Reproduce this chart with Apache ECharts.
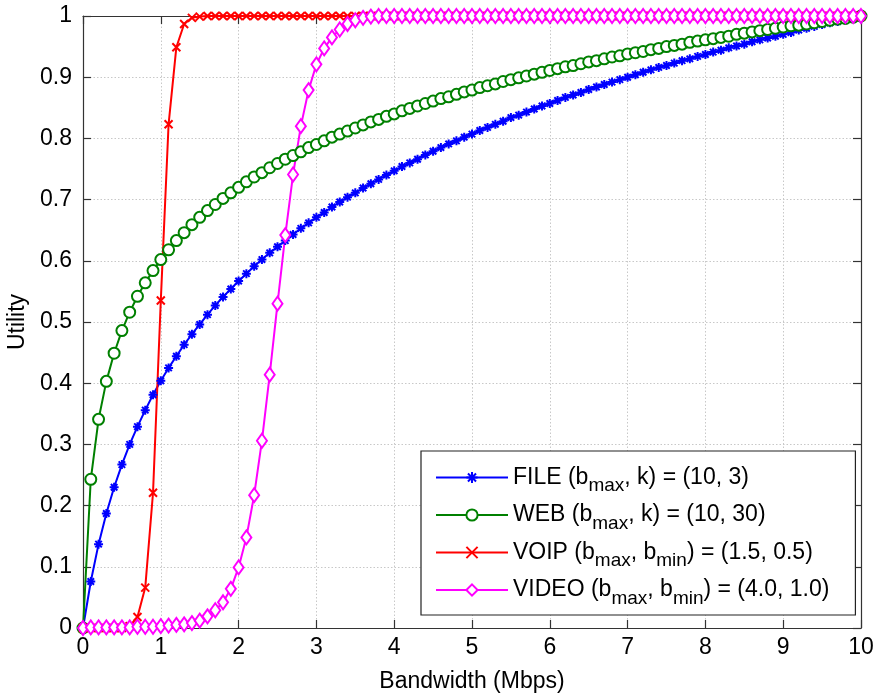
<!DOCTYPE html>
<html>
<head>
<meta charset="utf-8">
<script src="https://cdn.jsdelivr.net/npm/echarts@6/dist/echarts.min.js"></script>
<style>html,body{margin:0;padding:0;background:#fff}#c{width:874px;height:695px}</style>
</head>
<body>
<div id="c"></div>
<script>
var bandwidth = [0,0.1,0.2,0.3,0.4,0.5,0.6,0.7,0.8,0.9,1,1.1,1.2,1.3,1.4,1.5,1.6,1.7,1.8,1.9,2,2.1,2.2,2.3,2.4,2.5,2.6,2.7,2.8,2.9,3,3.1,3.2,3.3,3.4,3.5,3.6,3.7,3.8,3.9,4,4.1,4.2,4.3,4.4,4.5,4.6,4.7,4.8,4.9,5,5.1,5.2,5.3,5.4,5.5,5.6,5.7,5.8,5.9,6,6.1,6.2,6.3,6.4,6.5,6.6,6.7,6.8,6.9,7,7.1,7.2,7.3,7.4,7.5,7.6,7.7,7.8,7.9,8,8.1,8.2,8.3,8.4,8.5,8.6,8.7,8.8,8.9,9,9.1,9.2,9.3,9.4,9.5,9.6,9.7,9.8,9.9,10];

var fileUtility = [0,0.076,0.137,0.187,0.230,0.267,0.300,0.329,0.356,0.381,0.404,0.425,0.444,0.463,0.480,0.496,0.512,0.527,0.541,0.554,0.567,0.579,0.591,0.602,0.613,0.623,0.633,0.643,0.653,0.662,0.671,0.679,0.688,0.696,0.704,0.711,0.719,0.726,0.733,0.740,0.747,0.754,0.760,0.766,0.773,0.779,0.785,0.791,0.796,0.802,0.807,0.813,0.818,0.823,0.828,0.834,0.838,0.843,0.848,0.853,0.857,0.862,0.867,0.871,0.875,0.880,0.884,0.888,0.892,0.896,0.900,0.904,0.908,0.912,0.916,0.919,0.923,0.927,0.930,0.934,0.937,0.941,0.944,0.948,0.951,0.954,0.958,0.961,0.964,0.967,0.970,0.973,0.977,0.980,0.983,0.986,0.989,0.991,0.994,0.997,1];

var webUtility = [0,0.243,0.341,0.403,0.449,0.486,0.516,0.542,0.564,0.584,0.602,0.618,0.633,0.646,0.659,0.671,0.682,0.692,0.702,0.711,0.720,0.729,0.737,0.744,0.752,0.759,0.766,0.772,0.778,0.785,0.790,0.796,0.802,0.807,0.812,0.817,0.822,0.827,0.831,0.836,0.840,0.845,0.849,0.853,0.857,0.861,0.865,0.868,0.872,0.876,0.879,0.883,0.886,0.889,0.893,0.896,0.899,0.902,0.905,0.908,0.911,0.914,0.917,0.919,0.922,0.925,0.927,0.930,0.933,0.935,0.938,0.940,0.942,0.945,0.947,0.950,0.952,0.954,0.957,0.959,0.961,0.963,0.965,0.967,0.970,0.972,0.974,0.976,0.978,0.980,0.982,0.984,0.985,0.987,0.989,0.991,0.993,0.995,0.996,0.998,1];

var voipUtility = [0,0,0,0,0,0,0.003,0.018,0.066,0.221,0.535,0.823,0.949,0.987,0.997,0.999,1,1,1,1,1,1,1,1,1,1,1,1,1,1,1,1,1,1,1,1,1,1,1,1,1,1,1,1,1,1,1,1,1,1,1,1,1,1,1,1,1,1,1,1,1,1,1,1,1,1,1,1,1,1,1,1,1,1,1,1,1,1,1,1,1,1,1,1,1,1,1,1,1,1,1,1,1,1,1,1,1,1,1,1,1];

var videoUtility = [0,0.001,0.001,0.001,0.001,0.001,0.001,0.002,0.002,0.002,0.003,0.004,0.005,0.006,0.008,0.012,0.019,0.029,0.042,0.064,0.099,0.148,0.217,0.306,0.414,0.530,0.642,0.741,0.820,0.879,0.921,0.947,0.965,0.978,0.987,0.993,0.997,0.999,1,1,1,1,1,1,1,1,1,1,1,1,1,1,1,1,1,1,1,1,1,1,1,1,1,1,1,1,1,1,1,1,1,1,1,1,1,1,1,1,1,1,1,1,1,1,1,1,1,1,1,1,1,1,1,1,1,1,1,1,1,1,1];

var seriesNames = ['FILE', 'WEB', 'VOIP', 'VIDEO'];
var legendTexts = {
  FILE: '{m|FILE (b}{s|max}{m|, k) = (10, 3)}',
  WEB: '{m|WEB (b}{s|max}{m|, k) = (10, 30)}',
  VOIP: '{m|VOIP (b}{s|max}{m|, b}{s|min}{m|) = (1.5, 0.5)}',
  VIDEO: '{m|VIDEO (b}{s|max}{m|, b}{s|min}{m|) = (4.0, 1.0)}'
};
var xTicks = {min: 0, max: 10, interval: 1};
var yTicks = {min: 0, max: 1, interval: 0.1};

function pairs(ys) { return bandwidth.map(function (x, i) { return [x, ys[i]]; }); }

var FONT = 'Arial, "Liberation Sans", Helvetica, sans-serif';
var asterisk = 'path://M0,-1L0,1M-1,0L1,0M-0.72,-0.72L0.72,0.72M-0.72,0.72L0.72,-0.72';
var cross = 'path://M-1,-1L1,1M-1,1L1,-1';

var axisLineStyle = {color: '#333', width: 1.2};
var gridLine = {show: true, lineStyle: {color: '#c8c8c8', type: [1.5, 2], width: 1}};

function mkSeries(name, ys, color, symbol, size) {
  return {
    name: name, type: 'line', data: pairs(ys),
    showAllSymbol: true, symbol: symbol, symbolSize: size,
    lineStyle: {color: color, width: 2},
    itemStyle: {color: color, borderColor: color, borderWidth: 2},
    emphasis: {disabled: true}, z: 3
  };
}

var chart = echarts.init(document.getElementById('c'), null, {renderer: 'canvas'});
chart.setOption({
  animation: false,
  backgroundColor: '#fff',
  grid: {left: 83, right: 13, top: 16, bottom: 67, containLabel: false, outerBoundsMode: 'none'},
  xAxis: [{
    type: 'value', min: xTicks.min, max: xTicks.max, interval: xTicks.interval,
    name: 'Bandwidth (Mbps)', nameLocation: 'middle', nameGap: 42,
    nameTextStyle: {fontFamily: FONT, fontSize: 23, color: '#000'},
    axisLine: {show: true, onZero: false, lineStyle: axisLineStyle},
    axisTick: {show: true, inside: true, length: 8, lineStyle: axisLineStyle},
    axisLabel: {fontFamily: FONT, fontSize: 23, color: '#000', margin: 8},
    splitLine: gridLine
  }, {
    type: 'value', position: 'top', min: xTicks.min, max: xTicks.max, interval: xTicks.interval,
    axisLine: {show: true, onZero: false, lineStyle: axisLineStyle},
    axisTick: {show: true, inside: true, length: 8, lineStyle: axisLineStyle},
    axisLabel: {show: false}, splitLine: {show: false}
  }],
  yAxis: [{
    type: 'value', min: yTicks.min, max: yTicks.max, interval: yTicks.interval,
    name: 'Utility', nameLocation: 'middle', nameGap: 52, nameRotate: 90,
    nameTextStyle: {fontFamily: FONT, fontSize: 23, color: '#000'},
    axisLine: {show: true, onZero: false, lineStyle: axisLineStyle},
    axisTick: {show: true, inside: true, length: 8, lineStyle: axisLineStyle},
    axisLabel: {fontFamily: FONT, fontSize: 23, color: '#000', margin: 11},
    splitLine: gridLine
  }, {
    type: 'value', position: 'right', min: yTicks.min, max: yTicks.max, interval: yTicks.interval,
    axisLine: {show: true, onZero: false, lineStyle: axisLineStyle},
    axisTick: {show: true, inside: true, length: 8, lineStyle: axisLineStyle},
    axisLabel: {show: false}, splitLine: {show: false}
  }],
  legend: {
    data: seriesNames, orient: 'vertical', left: 421, top: 451,
    backgroundColor: '#fff', borderColor: '#222', borderWidth: 1.2,
    padding: [15, 26, 7, 14], itemGap: 8, itemWidth: 72, itemHeight: 14,
    selectedMode: false,
    formatter: function (n) { return legendTexts[n]; },
    textStyle: {
      rich: {
        m: {fontFamily: FONT, fontSize: 23, color: '#000', lineHeight: 36, verticalAlign: 'middle'},
        s: {fontFamily: FONT, fontSize: 19, color: '#000', lineHeight: 12, verticalAlign: 'bottom'}
      }
    }
  },
  series: [
    mkSeries('FILE', fileUtility, '#0000ff', asterisk, 9),
    mkSeries('WEB', webUtility, '#008000', 'emptyCircle', 11),
    mkSeries('VOIP', voipUtility, '#ff0000', cross, 8),
    mkSeries('VIDEO', videoUtility, '#ff00ff', 'emptyDiamond', [10, 14])
  ]
});
</script>
</body>
</html>
